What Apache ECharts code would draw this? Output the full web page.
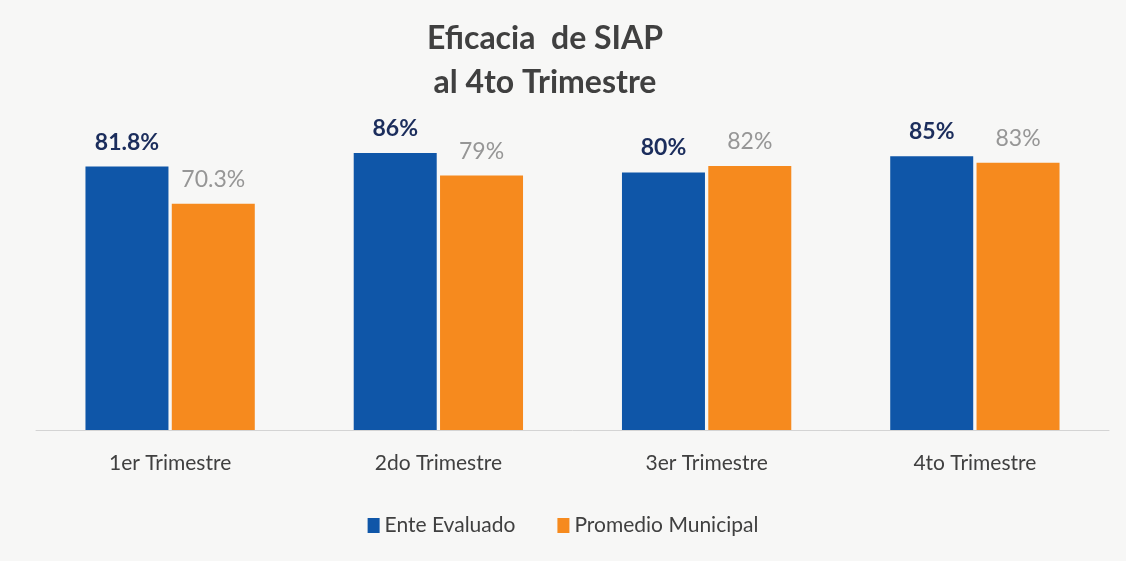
<!DOCTYPE html>
<html>
<head>
<meta charset="utf-8">
<script src="https://cdn.jsdelivr.net/npm/echarts@6/dist/echarts.min.js"></script>
<style>
  html, body { margin: 0; padding: 0; background: #f7f7f6; }
  #chart { width: 1126px; height: 561px; }
</style>
</head>
<body>
<div id="chart"></div>
<script>
// datos
const trimestres = ["1er Trimestre", "2do Trimestre", "3er Trimestre", "4to Trimestre"];
const enteEvaluado = [81.8, 86, 80, 85];
const promedioMunicipal = [70.3, 79, 82, 83];

const chart = echarts.init(document.getElementById("chart"));

chart.setOption({
    backgroundColor: "#f7f7f6",
    textStyle: { fontFamily: "Lato" },
    title: {
        text: "Eficacia  de SIAP\nal 4to Trimestre",
        left: 540,
        textAlign: "center",
        top: 12,
        textStyle: {
            fontFamily: "Lato",
            fontSize: 32,
            fontWeight: "bold",
            color: "#404040",
            lineHeight: 44,
        },
    },
    legend: {
        bottom: 20,
        left: "center",
        itemWidth: 12,
        itemHeight: 15,
        itemGap: 42,
        icon: "rect",
        textStyle: { fontSize: 21, color: "#404040" },
        data: ["Ente Evaluado", "Promedio Municipal"],
    },
    grid: {
        left: 36,
        right: 17,
        top: 108,
        bottom: 131,
    },
    xAxis: {
        type: "category",
        data: trimestres,
        axisTick: { show: false },
        axisLine: { lineStyle: { color: "#d4d4d4", width: 1 } },
        axisLabel: { fontSize: 21, color: "#404040", margin: 23 },
    },
    yAxis: {
        type: "value",
        min: 0,
        max: 100,
        show: false,
        splitLine: { show: false },
    },
    series: [
        {
            name: "Ente Evaluado",
            type: "bar",
            data: enteEvaluado,
            barWidth: 83,
            barGap: "4%",
            itemStyle: { color: "#0f56a8" },
            label: {
                show: true,
                position: "top",
                distance: 13,
                fontSize: 23,
                fontWeight: "bold",
                color: "#1b2d5c",
                formatter: (p) => p.value + "%",
            },
        },
        {
            name: "Promedio Municipal",
            type: "bar",
            data: promedioMunicipal,
            barWidth: 83,
            itemStyle: { color: "#f68a1e" },
            label: {
                show: true,
                position: "top",
                distance: 13,
                fontSize: 23,
                color: "#969696",
                formatter: (p) => p.value + "%",
            },
        },
    ],
});
</script>
</body>
</html>
